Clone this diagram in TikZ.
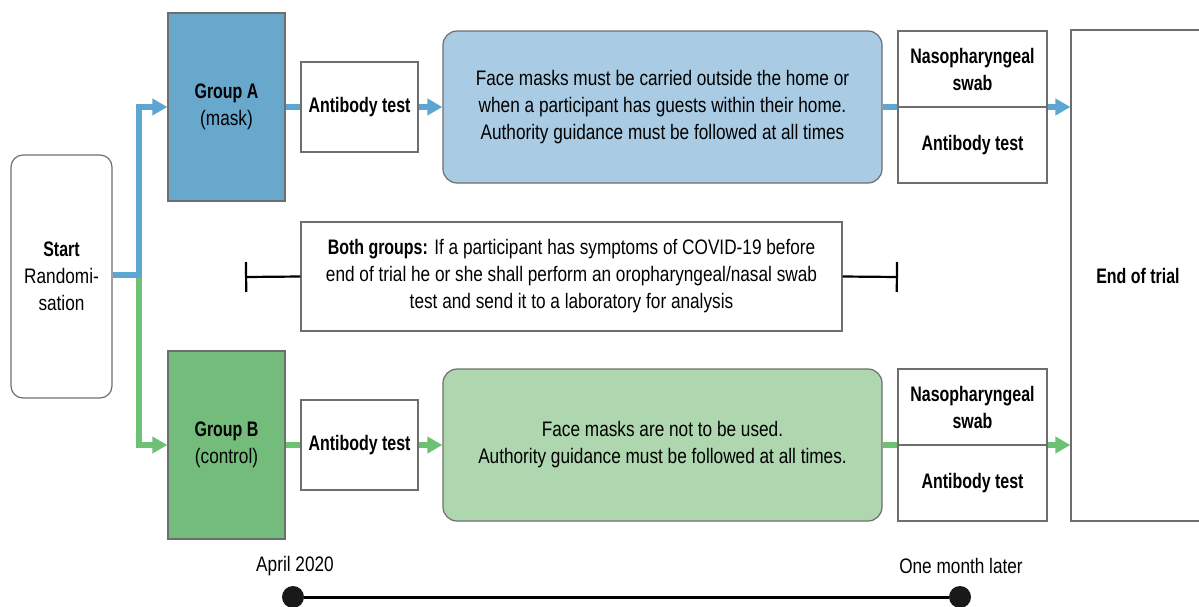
\documentclass[tikz,border=0pt]{standalone}
\usepackage{fontspec}
\setmainfont{Liberation Sans}[FakeStretch=0.82, BoldFeatures={FakeStretch=0.76}]
\usetikzlibrary{arrows.meta}
\definecolor{boxgrey}{HTML}{6E6E6E}
\definecolor{grpblue}{HTML}{68A8CD}
\definecolor{lightblue}{HTML}{A9CBE3}
\definecolor{arrblue}{HTML}{5DA6D2}
\definecolor{grpgreen}{HTML}{74BC7B}
\definecolor{lightgreen}{HTML}{AED6AF}
\definecolor{arrgreen}{HTML}{6CC175}
\begin{document}
\begin{tikzpicture}[x=0.5pt,y=-0.5pt,
    font=\fontsize{10.5}{13.5}\selectfont,
    box/.style={draw=boxgrey, line width=0.6pt, inner sep=0pt, align=center},
    flowA/.style={draw=arrblue, line width=2.6pt},
    flowB/.style={draw=arrgreen, line width=2.6pt},
    tipA/.style={flowA, -{Triangle[length=7.5pt,width=8pt]}},
    tipB/.style={flowB, -{Triangle[length=7.5pt,width=8pt]}},
    bracket/.style={line width=1.1pt, -{Bar[width=15pt,line width=1.1pt]}},
    dot/.style={circle, fill=black!90, inner sep=0pt, minimum size=11pt}]
    \useasboundingbox (0,0) rectangle (1199,606);
    % boxes
    \node[box, rounded corners=6pt, minimum width=50.5pt, minimum height=121.5pt] (start) at (61.5,276.5) {\textbf{Start}\\Randomi-\\sation};
    \node[box, fill=grpblue, minimum width=58.5pt, minimum height=94pt] (grpA) at (226.5,107) {\textbf{Group A}\\(mask)};
    \node[box, fill=grpgreen, minimum width=58.5pt, minimum height=94pt] (grpB) at (226.5,445) {\textbf{Group B}\\(control)};
    \node[box, minimum width=58.5pt, minimum height=45pt] (abA) at (359.5,107) {\textbf{Antibody test}};
    \node[box, minimum width=58.5pt, minimum height=45pt] (abB) at (359.5,445) {\textbf{Antibody test}};
    \node[box, fill=lightblue, rounded corners=7pt, minimum width=219.5pt, minimum height=76pt] (maskA) at (662.5,107)
        {Face masks must be carried outside the home or\\when a participant has guests within their home.\\Authority guidance must be followed at all times};
    \node[box, fill=lightgreen, rounded corners=7pt, minimum width=219.5pt, minimum height=76pt] (maskB) at (662.5,445)
        {Face masks are not to be used.\\Authority guidance must be followed at all times.};
    \node[box, minimum width=74.5pt, minimum height=38pt] (swabA) at (972.5,69) {\textbf{Nasopharyngeal}\\\textbf{swab}};
    \node[box, minimum width=74.5pt, minimum height=38pt] (testA) at (972.5,145) {\textbf{Antibody test}};
    \node[box, minimum width=74.5pt, minimum height=38pt] (swabB) at (972.5,407) {\textbf{Nasopharyngeal}\\\textbf{swab}};
    \node[box, minimum width=74.5pt, minimum height=38pt] (testB) at (972.5,483) {\textbf{Antibody test}};
    \node[box, minimum width=67pt, minimum height=245.5pt] (endT) at (1138,275.5) {\textbf{End of trial}};
    \node[box, minimum width=270.5pt, minimum height=54.5pt] (both) at (571.5,276.5)
        {\textbf{Both groups:} If a participant has symptoms of COVID-19 before\\end of trial he or she shall perform an oropharyngeal/nasal swab\\test and send it to a laboratory for analysis};
    % flow
    \coordinate (split) at (139,275);
    \draw[tipB] (split) |- (grpB.west);
    \draw[tipA] (start.east |- split) -- (split) |- (grpA.west);
    \draw[flowA] (grpA.east) -- (abA.west);
    \draw[tipA] (abA.east) -- (maskA.west);
    \draw[flowA] (maskA.east) -- (maskA.east -| swabA.west);
    \draw[tipA] (maskA.east -| swabA.east) -- (maskA.east -| endT.west);
    \draw[flowB] (grpB.east) -- (abB.west);
    \draw[tipB] (abB.east) -- (maskB.west);
    \draw[flowB] (maskB.east) -- (maskB.east -| swabB.west);
    \draw[tipB] (maskB.east -| swabB.east) -- (maskB.east -| endT.west);
    % both groups
    \coordinate (barL) at (245,277);
    \coordinate (barR) at (898,277);
    \draw[bracket] (both.west) -- (barL);
    \draw[bracket] (both.east) -- (barR);
    % timeline
    \node[dot] (t0) at (293,597) {};
    \node[dot] (t1) at (960,597) {};
    \draw[line width=1.5pt] (t0) -- (t1);
    \node (l0) at (295,566) {April 2020};
    \node (l1) at (961,566) {One month later};
\end{tikzpicture}
\end{document}
